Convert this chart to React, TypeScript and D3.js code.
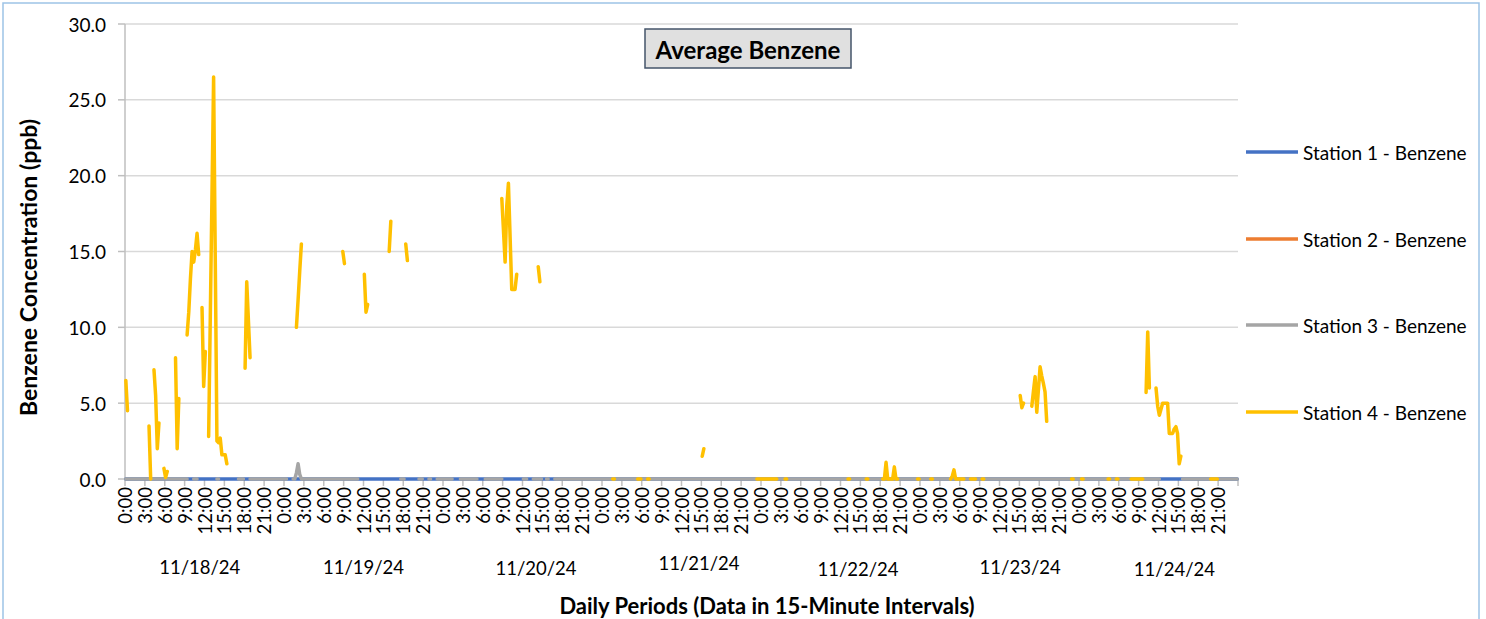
import React from "react";
import * as d3 from "d3";

// ---------- data ----------
const days = ["11/18/24", "11/19/24", "11/20/24", "11/21/24", "11/22/24", "11/23/24", "11/24/24"];
const hourLabels = ["0:00", "3:00", "6:00", "9:00", "12:00", "15:00", "18:00", "21:00"];
const pointsPerDay = 96; // 15-minute intervals
const yTicks = [0, 5, 10, 15, 20, 25, 30];

const seriesNames = ["Station 1 - Benzene", "Station 2 - Benzene", "Station 3 - Benzene", "Station 4 - Benzene"];
const seriesColors = ["#4472C4", "#ED7D31", "#A5A5A5", "#FFC000"];

// Station 1: reported 0.0 throughout
const station1Level = 0;
// Station 2: no data reported
const station2Segments: [number, number[]][] = [];
// Station 3: 0.0 except missing intervals and a small bump
const station3Gaps: [number, number][] = [
  [38, 40], [44, 54], [57, 67], [72, 74], [98, 100], [141, 165], [169, 176], [180, 182],
  [185, 187], [198, 201], [213, 216], [228, 239], [243, 245], [252, 253], [256, 258], [625, 637],
];
const station3Bump: [number, number[]] = [103, [0.4, 1.0, 0.3]];

// Station 4: [start interval index, values...]
const station4Segments: [number, number[]][] = [
  [0, [6.5, 4.5]],
  [14, [3.5, 0]],
  [17, [7.2, 5.5, 2.0, 3.7]],
  [23, [0.7, 0.1, 0.5]],
  [30, [8.0, 2.0, 5.3]],
  [37, [9.5, 11.0, 13.2, 15.0, 14.3, 15.1, 16.2, 14.8]],
  [46, [11.3, 6.1, 8.4]],
  [50, [2.8, 10.7, 18.6, 26.5, 14.5, 2.5, 2.4, 2.7, 1.6, 1.6, 1.6, 1.0]],
  [72, [7.3, 13.0, 10.5, 8.0]],
  [103, [10.0, 11.8, 13.7, 15.5]],
  [131, [15.0, 14.2]],
  [144, [13.5, 11.0, 11.5]],
  [159, [15.0, 17.0]],
  [169, [15.5, 14.4]],
  [227, [18.5, 16.4, 14.3, 18.0, 19.5, 16.0, 12.5, 12.5, 12.5, 13.5]],
  [249, [14.0, 13.0]],
  [294, [0, 0]],
  [309, [0, 0, 0]],
  [315, [0, 0]],
  [348, [1.5, 2.0]],
  [381, [0, 0, 0, 0, 0, 0, 0, 0, 0, 0, 0, 0, 0]],
  [398, [0, 0]],
  [436, [0, 0]],
  [447, [0, 0]],
  [457, [0, 0, 1.1, 0, 0, 0, 0, 0.8, 0, 0]],
  [478, [0, 0]],
  [486, [0, 0]],
  [498, [0, 0.2, 0.6, 0, 0, 0, 0, 0, 0]],
  [510, [0, 0, 0, 0]],
  [517, [0, 0]],
  [540, [5.5, 4.7, 5.0]],
  [547, [4.8, 5.8, 6.75, 4.4, 5.9, 7.4, 6.8, 6.3, 5.75, 3.8]],
  [571, [0, 0]],
  [577, [0, 0]],
  [593, [0, 0]],
  [598, [0, 0]],
  [607, [0, 0, 0, 0, 0, 0, 0, 0]],
  [616, [5.7, 9.7, 6.0]],
  [622, [6.0, 4.8, 4.2, 4.6, 5.0, 5.0, 5.0, 5.0, 3.0, 3.0, 3.0, 3.3, 3.45, 3.0, 1.0, 1.5]],
  [655, [0, 0, 0, 0, 0]],
];

// day label centres (as fraction of the day) – Excel placed them slightly off-centre
const dayLabelShift = [-0.03, 0.0, 0.085, 0.11, 0.11, 0.13, 0.1];
const dayLabelDy = [0, 0, 1, -4, 2, 0, 2];

// ---------- helpers ----------
const N = days.length * pointsPerDay;

function fromSegments(segs: [number, number[]][]): (number | null)[] {
  const arr: (number | null)[] = new Array(N).fill(null);
  segs.forEach(([s, vals]) => vals.forEach((v, k) => (arr[s + k] = v)));
  return arr;
}

const s1: (number | null)[] = new Array(N).fill(station1Level);
const s2 = fromSegments(station2Segments);
const s3: (number | null)[] = new Array(N).fill(0);
station3Gaps.forEach(([a, b]) => {
  for (let i = a; i <= b; i++) s3[i] = null;
});
station3Bump[1].forEach((v, k) => (s3[station3Bump[0] + k] = v));
const s4 = fromSegments(station4Segments);
const allSeries = [s1, s2, s3, s4];

// ---------- layout ----------
const W = 1486;
const H = 619;
const plotL = 125;
const plotR = 1238;
const plotT = 24;
const plotB = 479;
const FONT = "Lato, Carlito, Calibri, sans-serif";

export default function App() {
  const x = d3.scaleLinear().domain([0, N]).range([plotL, plotR]);
  const y = d3.scaleLinear().domain([0, 30]).range([plotB, plotT]);
  const px = (i: number) => x(i + 0.5);

  const line = d3
    .line<number | null>()
    .defined((d) => d != null)
    .x((_, i) => px(i))
    .y((d) => y(d as number));

  const tickIdx: number[] = d3.range(0, N + 1, 12);
  const labelIdx: number[] = d3.range(0, N, 12);

  const legendY = [152, 239, 325, 412];

  return (
    <svg
      width={W}
      height={H}
      style={{ position: "absolute", left: 0, top: 0, background: "#fff" }}
      fontFamily={FONT}
    >
      <rect x={0} y={0} width={W} height={H} fill="#fff" />
      {/* outer chart border */}
      <rect x={3} y={3} width={1476} height={H + 20} fill="none" stroke="#9DC3E6" strokeWidth={1.5} />

      {/* gridlines */}
      {yTicks.map((t) => (
        <line key={"g" + t} x1={plotL} x2={plotR} y1={y(t)} y2={y(t)} stroke="#D9D9D9" strokeWidth={1.5} />
      ))}
      {/* y axis */}
      <line x1={plotL} x2={plotL} y1={plotT} y2={plotB} stroke="#BFBFBF" strokeWidth={1.5} />
      {yTicks.map((t) => (
        <line key={"yt" + t} x1={plotL - 7} x2={plotL} y1={y(t)} y2={y(t)} stroke="#BFBFBF" strokeWidth={1.5} />
      ))}
      {yTicks.map((t) => (
        <text key={"yl" + t} x={106} y={y(t)} textAnchor="end" dominantBaseline="central" fontSize={19} fill="#000">
          {t.toFixed(1)}
        </text>
      ))}

      {/* x axis base & ticks */}
      <line x1={plotL} x2={plotR} y1={plotB} y2={plotB} stroke="#BFBFBF" strokeWidth={1.5} />
      {tickIdx.map((i) => (
        <line key={"xt" + i} x1={x(i)} x2={x(i)} y1={plotB} y2={plotB + 7} stroke="#BFBFBF" strokeWidth={1.5} />
      ))}
      {labelIdx.map((i) => (
        <text
          key={"xl" + i}
          transform={`translate(${x(i)},${plotB + 8}) rotate(-90)`}
          textAnchor="end"
          dominantBaseline="central"
          fontSize={18.5}
          fill="#000"
        >
          {hourLabels[(i % pointsPerDay) / 12]}
        </text>
      ))}
      {days.map((d, k) => (
        <text
          key={"d" + d}
          x={x((k + 0.5 + dayLabelShift[k]) * pointsPerDay)}
          y={567 + dayLabelDy[k]}
          textAnchor="middle"
          dominantBaseline="central"
          fontSize={18.5}
          fill="#000"
        >
          {d}
        </text>
      ))}

      {/* series */}
      {allSeries.map((s, k) => (
        <path
          key={"s" + k}
          d={line(s) || ""}
          fill="none"
          stroke={seriesColors[k]}
          strokeWidth={3.5}
          strokeLinecap="round"
          strokeLinejoin="round"
        />
      ))}

      {/* title */}
      <rect x={645} y={29} width={206} height={39} fill="#E0E0E0" stroke="#44546A" strokeWidth={1.5} />
      <text x={748} y={49} textAnchor="middle" dominantBaseline="central" fontSize={24} fontWeight="bold" fill="#000">
        Average Benzene
      </text>

      {/* axis titles */}
      <text
        transform={`translate(28,${(plotT + plotB) / 2 + 16}) rotate(-90)`}
        textAnchor="middle"
        dominantBaseline="central"
        fontSize={23}
        fontWeight="bold"
        fill="#000"
      >
        Benzene Concentration (ppb)
      </text>
      <text x={767} y={605} textAnchor="middle" dominantBaseline="central" fontSize={22} fontWeight="bold" fill="#000">
        Daily Periods (Data in 15-Minute Intervals)
      </text>

      {/* legend */}
      {seriesNames.map((n, k) => (
        <g key={"lg" + k}>
          <line x1={1246} x2={1298} y1={legendY[k]} y2={legendY[k]} stroke={seriesColors[k]} strokeWidth={3.5} />
          <text x={1303} y={legendY[k]} dominantBaseline="central" fontSize={19} fill="#000">
            {n}
          </text>
        </g>
      ))}
    </svg>
  );
}
